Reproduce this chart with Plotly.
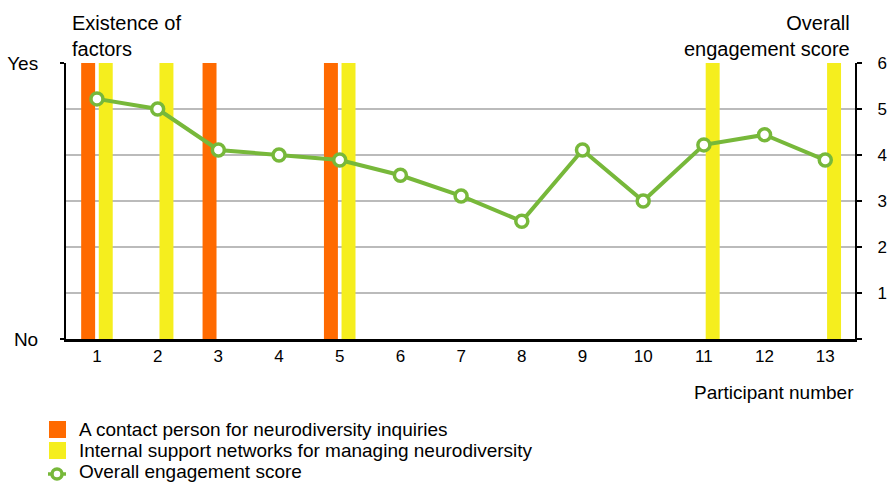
import plotly.graph_objects as go

participants = list(range(1, 13 + 1))
contact_person = [1, 0, 1, 0, 1, 0, 0, 0, 0, 0, 0, 0, 0]
support_networks = [1, 1, 0, 0, 1, 0, 0, 0, 0, 0, 1, 0, 1]
engagement = [5.22, 5.0, 4.11, 4.0, 3.89, 3.56, 3.11, 2.56, 4.11, 3.0, 4.22, 4.44, 3.89]
score_ticks = [0, 1, 2, 3, 4, 5, 6]
score_labels = ["", "1", "2", "3", "4", "5", "6"]
series_names = [
    "A contact person for neurodiversity inquiries",
    "Internal support networks for managing neurodiversity",
    "Overall engagement score",
]

ORANGE = "#FF6A00"
YELLOW = "#F5EE1E"
GREEN = "#77B83A"
FONT = "Liberation Sans, Arial, Helvetica, sans-serif"

W, H = 890, 483
ML, MR, MT, MB = 66, 35, 63, 144
PW, PH = W - ML - MR, H - MT - MB


def px(x):
    return (x - ML) / PW


def py(y):
    return (H - MB - y) / PH


fig = go.Figure()

fig.add_trace(go.Bar(
    x=participants, y=contact_person, name=series_names[0],
    marker=dict(color=ORANGE, line=dict(width=0)),
    width=0.23, offset=-0.26, yaxis="y",
))
fig.add_trace(go.Bar(
    x=participants, y=support_networks, name=series_names[1],
    marker=dict(color=YELLOW, line=dict(width=0)),
    width=0.23, offset=0.03, yaxis="y",
))
fig.add_trace(go.Scatter(
    x=participants, y=engagement, name=series_names[2],
    mode="lines+markers", yaxis="y2",
    line=dict(color=GREEN, width=4),
    marker=dict(symbol="circle", size=12, color="white", line=dict(color=GREEN, width=3.5)),
))

# Legend drawn below the plot: swatches as shapes, labels as annotations
legend_rows = [429, 450, 471]
shapes = [
    dict(type="rect", xref="paper", yref="paper", layer="above",
         x0=px(49), x1=px(66), y0=py(421), y1=py(438),
         fillcolor=ORANGE, line=dict(width=0)),
    dict(type="rect", xref="paper", yref="paper", layer="above",
         x0=px(49), x1=px(66), y0=py(442), y1=py(459),
         fillcolor=YELLOW, line=dict(width=0)),
    dict(type="line", xref="paper", yref="paper", layer="above",
         x0=px(48), x1=px(66), y0=py(474), y1=py(474),
         line=dict(color=GREEN, width=3.5)),
    dict(type="circle", xref="paper", yref="paper", layer="above",
         x0=px(52), x1=px(62), y0=py(479), y1=py(469),
         fillcolor="white", line=dict(color=GREEN, width=3.5)),
]
legend_labels = [
    dict(text=name, xref="paper", yref="paper", x=px(77), y=py(row),
         xanchor="left", yanchor="middle", showarrow=False, font=dict(size=19))
    for name, row in zip(series_names, legend_rows)
]

fig.update_layout(
    width=W, height=H,
    margin=dict(l=ML, r=MR, t=MT, b=MB, autoexpand=False),
    paper_bgcolor="white", plot_bgcolor="white",
    font=dict(family=FONT, size=17, color="black"),
    barmode="overlay",
    showlegend=False,
    xaxis=dict(
        range=[0.49, 13.49], tickvals=participants, ticks="",
        showline=True, linecolor="black", linewidth=2.5,
        showgrid=False, zeroline=False, tickfont=dict(size=17),
    ),
    yaxis=dict(
        range=[0, 1], tickvals=[0, 1], ticktext=["No", "Yes"],
        showline=True, linecolor="black", linewidth=2,
        ticks="outside", ticklen=4, tickwidth=2, tickcolor="black",
        ticklabelstandoff=18,
        showgrid=False, zeroline=False, tickfont=dict(size=19),
    ),
    yaxis2=dict(
        range=[0, 6], tickvals=score_ticks, ticktext=score_labels,
        overlaying="y", side="right",
        showline=True, linecolor="black", linewidth=2,
        ticks="outside", ticklen=5, tickwidth=1.5, tickcolor="black",
        ticklabelstandoff=12,
        showgrid=True, gridcolor="#BBBBBB", gridwidth=1.5, zeroline=False,
        tickfont=dict(size=17),
    ),
    shapes=shapes,
    annotations=[
        dict(text="Existence of<br>factors", xref="paper", yref="paper",
             x=px(70), y=py(10), xanchor="left", yanchor="top", align="left",
             showarrow=False, font=dict(size=20)),
        dict(text="Overall<br>engagement score", xref="paper", yref="paper",
             x=px(852), y=py(10), xanchor="right", yanchor="top", align="right",
             showarrow=False, font=dict(size=20)),
        dict(text="Participant number", xref="paper", yref="paper",
             x=px(856), y=py(392), xanchor="right", yanchor="middle", align="right",
             showarrow=False, font=dict(size=19)),
    ] + legend_labels,
)

fig.write_html("out.html")
